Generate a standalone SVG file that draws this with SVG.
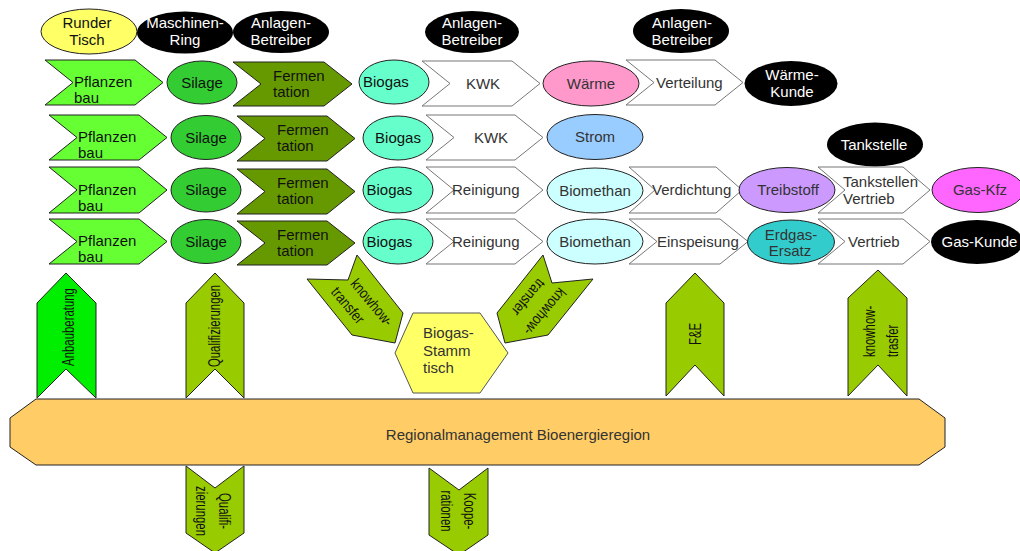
<svg xmlns="http://www.w3.org/2000/svg" width="1020" height="551" viewBox="0 0 1020 551">
<style>
text{font-family:"Liberation Sans",Arial,sans-serif;font-size:15px;fill:#111}
.m{text-anchor:middle}
.w{fill:#fff}
.g{fill:#333}
.v{font-size:17px}
.k{stroke:#222;stroke-width:1}
.wc{fill:#fff;stroke:#777;stroke-width:1}
.pf{fill:#66ff33}
.si{fill:#33cc33}
.fe{fill:#669900}
.bg{fill:#66ffcc}
.bm{fill:#ccffff}
.bl{fill:#000}
.ar{fill:#99cc00;stroke:#222;stroke-width:1}
</style>
<rect width="1020" height="551" fill="#fff"/>

<!-- top actor ellipses -->
<g id="runder-tisch"><ellipse cx="89" cy="31.5" rx="48" ry="22.5" fill="#ffff66" class="k"/><text class="m" x="87" y="28">Runder</text><text class="m" x="87" y="45">Tisch</text></g>
<g id="maschinenring"><ellipse cx="185" cy="32.5" rx="48" ry="21" class="bl"/><text class="m w" x="185" y="28">Maschinen-</text><text class="m w" x="185" y="45">Ring</text></g>
<g id="betreiber1"><ellipse cx="281" cy="32" rx="48" ry="21" class="bl"/><text class="m w" x="281" y="28">Anlagen-</text><text class="m w" x="281" y="45">Betreiber</text></g>
<g id="betreiber2"><ellipse cx="472" cy="32" rx="47" ry="21" class="bl"/><text class="m w" x="472" y="28">Anlagen-</text><text class="m w" x="472" y="45">Betreiber</text></g>
<g id="betreiber3"><ellipse cx="681" cy="31" rx="48" ry="22" class="bl"/><text class="m w" x="682" y="28">Anlagen-</text><text class="m w" x="682" y="45">Betreiber</text></g>
<g id="tankstelle"><ellipse cx="875" cy="144.5" rx="48" ry="22" class="bl"/><text class="m w" x="874" y="150">Tankstelle</text></g>

<!-- row 1 -->
<g id="r1-pflanzenbau"><polygon class="pf k" points="45,60 135,60 163,82.5 135,105 45,105 73,82.5"/><text x="74" y="87">Pflanzen</text><text x="74" y="103">bau</text></g>
<g id="r1-silage"><ellipse class="si k" cx="202" cy="82.5" rx="35" ry="21.5"/><text class="m" x="202" y="87.5">Silage</text></g>
<g id="r1-fermentation"><polygon class="fe k" points="233,62 324,62 352,84 324,106 233,106 261,84"/><text x="273" y="80.5">Fermen</text><text x="273" y="96.5">tation</text></g>
<g id="r1-biogas"><ellipse class="bg k" cx="394" cy="82" rx="35" ry="22"/><text x="363" y="87">Biogas</text></g>
<g id="r1-kwk"><polygon class="wc" points="422,61 512,61 540,83.5 512,106 422,106 450,83.5"/><text class="m g" x="483" y="88.5">KWK</text></g>
<g id="r1-waerme"><ellipse cx="591" cy="83.5" rx="48" ry="22.5" fill="#ff99cc" class="k"/><text class="m g" x="591" y="88.5">Wärme</text></g>
<g id="r1-verteilung"><polygon class="wc" points="626,60 715,60 743,82.5 715,105 626,105 654,82.5"/><text class="g" x="656" y="87.5">Verteilung</text></g>
<g id="r1-waermekunde"><ellipse cx="791" cy="83.5" rx="46.5" ry="22.5" class="bl"/><text class="m w" x="792" y="80">Wärme-</text><text class="m w" x="792" y="97">Kunde</text></g>

<!-- row 2 -->
<g id="r2-pflanzenbau"><polygon class="pf k" points="49,115 139,115 167,137.5 139,160 49,160 77,137.5"/><text x="78" y="142">Pflanzen</text><text x="78" y="158">bau</text></g>
<g id="r2-silage"><ellipse class="si k" cx="206" cy="137.5" rx="35" ry="22"/><text class="m" x="206" y="142.5">Silage</text></g>
<g id="r2-fermentation"><polygon class="fe k" points="237,116 327,116 355,138.5 327,161 237,161 265,138.5"/><text x="277" y="135">Fermen</text><text x="277" y="151">tation</text></g>
<g id="r2-biogas"><ellipse class="bg k" cx="398" cy="138" rx="35" ry="22"/><text class="m" x="398" y="143">Biogas</text></g>
<g id="r2-kwk"><polygon class="wc" points="426,115 515,115 543,137.5 515,160 426,160 454,137.5"/><text class="m g" x="491" y="142.5">KWK</text></g>
<g id="r2-strom"><ellipse cx="595" cy="137" rx="48" ry="22.5" fill="#99ccff" class="k"/><text class="m g" x="595" y="142">Strom</text></g>

<!-- row 3 -->
<g id="r3-pflanzenbau"><polygon class="pf k" points="49,167 139,167 167,190 139,213 49,213 77,190"/><text x="78" y="194.5">Pflanzen</text><text x="78" y="210.5">bau</text></g>
<g id="r3-silage"><ellipse class="si k" cx="206" cy="190" rx="35" ry="22"/><text class="m" x="206" y="195">Silage</text></g>
<g id="r3-fermentation"><polygon class="fe k" points="237,169 327,169 355,191.5 327,214 237,214 265,191.5"/><text x="277" y="188">Fermen</text><text x="277" y="204">tation</text></g>
<g id="r3-biogas"><ellipse class="bg k" cx="398" cy="190" rx="35" ry="23"/><text x="366.5" y="195">Biogas</text></g>
<g id="r3-reinigung"><polygon class="wc" points="426,167 515,167 543,190 515,213 426,213 454,190"/><text class="g" x="452" y="195">Reinigung</text></g>
<g id="r3-biomethan"><ellipse class="bm k" cx="595" cy="190.5" rx="48" ry="22.5"/><text class="m g" x="595" y="195.5">Biomethan</text></g>
<g id="r3-verdichtung"><polygon class="wc" points="629,167 716,167 742,190 716,213 629,213 655,190"/><text class="g" x="652" y="195">Verdichtung</text></g>
<g id="r3-treibstoff"><ellipse cx="787" cy="190" rx="48" ry="22.5" fill="#cc99ff" class="k"/><text class="m g" x="788" y="195">Treibstoff</text></g>
<g id="r3-tankstellenvertrieb"><polygon class="wc" points="818,167 903,167 930,190 903,213 818,213 845,190"/><text class="g" x="843" y="187">Tankstellen</text><text class="g" x="843" y="204">Vertrieb</text></g>
<g id="r3-gaskfz"><ellipse cx="978" cy="190" rx="46" ry="22.5" fill="#ff66ff" class="k"/><text class="m g" x="980" y="195">Gas-Kfz</text></g>

<!-- row 4 -->
<g id="r4-pflanzenbau"><polygon class="pf k" points="49,219 139,219 167,241.5 139,264 49,264 77,241.5"/><text x="78" y="246">Pflanzen</text><text x="78" y="262">bau</text></g>
<g id="r4-silage"><ellipse class="si k" cx="206" cy="241.5" rx="35" ry="22"/><text class="m" x="206" y="246.5">Silage</text></g>
<g id="r4-fermentation"><polygon class="fe k" points="237,221 327,221 355,243 327,265 237,265 265,243"/><text x="277" y="239.5">Fermen</text><text x="277" y="255.5">tation</text></g>
<g id="r4-biogas"><ellipse class="bg k" cx="398" cy="241.5" rx="35" ry="22.5"/><text x="366.5" y="246.5">Biogas</text></g>
<g id="r4-reinigung"><polygon class="wc" points="426,219 515,219 543,241.5 515,264 426,264 454,241.5"/><text class="g" x="452" y="246.5">Reinigung</text></g>
<g id="r4-biomethan"><ellipse class="bm k" cx="595" cy="241.5" rx="48" ry="22.5"/><text class="m g" x="595" y="246.5">Biomethan</text></g>
<g id="r4-einspeisung"><polygon class="wc" points="629,219 720,219 748,241.5 720,264 629,264 657,241.5"/><text class="g" x="657" y="246.5">Einspeisung</text></g>
<g id="r4-erdgasersatz"><ellipse cx="791" cy="242" rx="43.5" ry="22" fill="#33cccc" class="k"/><text class="m g" x="791" y="240">Erdgas-</text><text class="m g" x="790" y="256">Ersatz</text></g>
<g id="r4-vertrieb"><polygon class="wc" points="818,219 903,219 930,241.5 903,264 818,264 845,241.5"/><text class="g" x="848" y="247">Vertrieb</text></g>
<g id="r4-gaskunde"><ellipse cx="977" cy="242" rx="46" ry="22" class="bl"/><text class="m w" x="979.5" y="247">Gas-Kunde</text></g>

<!-- up arrows -->
<g id="anbauberatung"><polygon points="66,273 96,303 96,398 66,369 37,398 37,303" fill="#00ee00" stroke="#222"/><text class="m v" transform="translate(69,327) rotate(-90) scale(0.67,1)" y="4.5">Anbauberatung</text></g>
<g id="qualifizierungen-up"><polygon class="ar" points="215,273 244,303 244,398 215,369 186,398 186,303"/><text class="m v" transform="translate(215,326) rotate(-90) scale(0.67,1)" y="4.5">Qualifizierungen</text></g>
<g id="fue"><polygon class="ar" points="695,273 724,303 724,396 695,365 666,396 666,303"/><text class="m v" transform="translate(695,334) rotate(-90) scale(0.67,1)" y="6">F&amp;E</text></g>
<g id="knowhow-up"><polygon class="ar" points="878,270 907,298 907,396 878,365 848,396 848,298"/><text class="v" transform="translate(886,357) rotate(-90) scale(0.67,1)"><tspan x="0" y="-11">knowhow-</tspan><tspan x="0" y="12">trasfer</tspan></text></g>

<!-- diagonal knowhow arrows -->
<g id="knowhow-left"><polygon class="ar" points="357,255 348,280 307,279 352,335 395,343 403,313"/><text class="m" transform="translate(368,305.6) rotate(50) scale(0.84,1)">knowhow-</text><text class="m" transform="translate(344,308.6) rotate(50) scale(0.84,1)">transfer</text></g>
<g id="knowhow-right"><polygon class="ar" points="543,255 552,283 593,279 548,335 505,343 497,313"/><text class="m" transform="translate(541,308.4) rotate(130) scale(0.84,1)">knowhow-</text><text class="m" transform="translate(524.5,294) rotate(130) scale(0.84,1)">transfer</text></g>

<!-- Stammtisch -->
<g id="stammtisch"><polygon points="413,313 480,313 508,353 480,393 413,393 395,353" fill="#ffff66" stroke="#555"/><text class="g" x="423" y="338">Biogas-</text><text class="g" x="423" y="356">Stamm</text><text class="g" x="423" y="373">tisch</text></g>

<!-- regional management bar -->
<g id="regionalmanagement"><polygon points="36,399 919,399 945,418 945,447 919,465 36,465 10,447 10,418" fill="#ffcc66" stroke="#222"/><text class="m g" x="518" y="440">Regionalmanagement Bioenergieregion</text></g>

<!-- down arrows -->
<g id="qualifizierungen-down"><polygon class="ar" points="186,466 215,488 244,466 244,533 215,553 186,533"/><text class="m v" transform="translate(208,511) rotate(90) scale(0.67,1)"><tspan x="0" y="-11">Qualifi-</tspan><tspan x="0" y="12">zierungen</tspan></text></g>
<g id="kooperationen"><polygon class="ar" points="429,468 459,490 488,468 488,535 459,555 429,535"/><text class="m v" transform="translate(453,511) rotate(90) scale(0.67,1)"><tspan x="0" y="-11">Koope-</tspan><tspan x="0" y="12">rationen</tspan></text></g>
</svg>
